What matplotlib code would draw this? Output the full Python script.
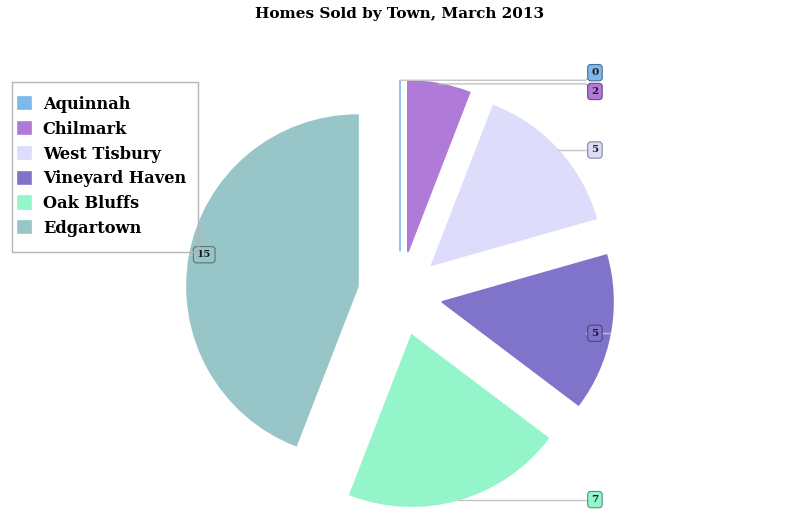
import numpy as np
import matplotlib.pyplot as plt
from matplotlib.colors import to_rgb
from matplotlib.patches import Rectangle

towns = ['Aquinnah', 'Chilmark', 'West Tisbury', 'Vineyard Haven', 'Oak Bluffs', 'Edgartown']
homes_sold = [0, 2, 5, 5, 7, 15]
colors = ['#7db9ec', '#b07ad9', '#dddcfa', '#7f74c9', '#93f5c9', '#97c5c8']

plt.rcParams['font.family'] = ['DejaVu Serif']

fig = plt.figure(figsize=(8, 5.29), dpi=100)
ax = fig.add_axes([0, 0, 1, 1])

wedges, _ = ax.pie(homes_sold, colors=colors, startangle=90, counterclock=False,
                   explode=[0.25] * len(homes_sold), radius=1,
                   wedgeprops=dict(linewidth=1.2))
for w, c in zip(wedges, colors):
    w.set_edgecolor(c)

# pie centre sits at pixel (400, 294), radius 171 px
ax.set_xlim(-400 / 171, 400 / 171)
ax.set_ylim(-(529 - 294) / 171, 294 / 171)
ax.set_aspect('auto')
ax.axis('off')

# anchor points on each arc
anchors = []
for w in wedges:
    mid = np.radians((w.theta1 + w.theta2) / 2)
    cx, cy = w.center
    anchors.append((cx + w.r * np.cos(mid), cy + w.r * np.sin(mid)))

label_pos = []
for axp, ayp in anchors:
    lx = 1.14 if axp >= -1e-6 else -1.145
    label_pos.append([lx, ayp])

# spread labels that collide on the same side
order = sorted(range(len(anchors)), key=lambda i: -label_pos[i][1])
gap = 0.11
for a, b in zip(order[:-1], order[1:]):
    if np.sign(label_pos[a][0]) != np.sign(label_pos[b][0]):
        continue
    d = label_pos[a][1] - label_pos[b][1]
    if d < gap:
        shift = (gap - d) / 2
        label_pos[a][1] += shift
        label_pos[b][1] -= shift

for i, v in enumerate(homes_sold):
    axp, ayp = anchors[i]
    lx, ly = label_pos[i]
    s = 1 if lx > 0 else -1
    ax.plot([axp, lx - s * 0.055, lx], [ayp, ayp, ly], color='#c4c4c4', lw=1, zorder=3)
    edge = tuple(0.6 * np.array(to_rgb(colors[i])))
    ax.text(lx, ly, str(v), ha='center', va='center', fontsize=7.5, fontweight='bold',
            color='#1a1a1a', zorder=4,
            bbox=dict(boxstyle='round,pad=0.35,rounding_size=0.3', fc=colors[i],
                      ec=edge, lw=0.8))

leg = fig.legend(wedges, towns, loc='upper left', bbox_to_anchor=(18 / 800, 1 - 96 / 529),
                 frameon=False,
                 prop=dict(family='DejaVu Serif', weight='bold', size=11.7),
                 handlelength=0.78, handleheight=0.78, handletextpad=0.75,
                 labelspacing=0.48, borderpad=0, borderaxespad=0)

# legend frame
fig.patches.append(Rectangle((12 / 800, 1 - 252 / 529), 186 / 800, 170 / 529,
                             transform=fig.transFigure, fill=False,
                             edgecolor='#b5b5b5', linewidth=1))

fig.text(0.5, 1 - 14 / 529, 'Homes Sold by Town, March 2013', ha='center', va='center',
         fontsize=11, fontweight='bold')

fig.savefig('out.png', dpi=100, facecolor='white')
